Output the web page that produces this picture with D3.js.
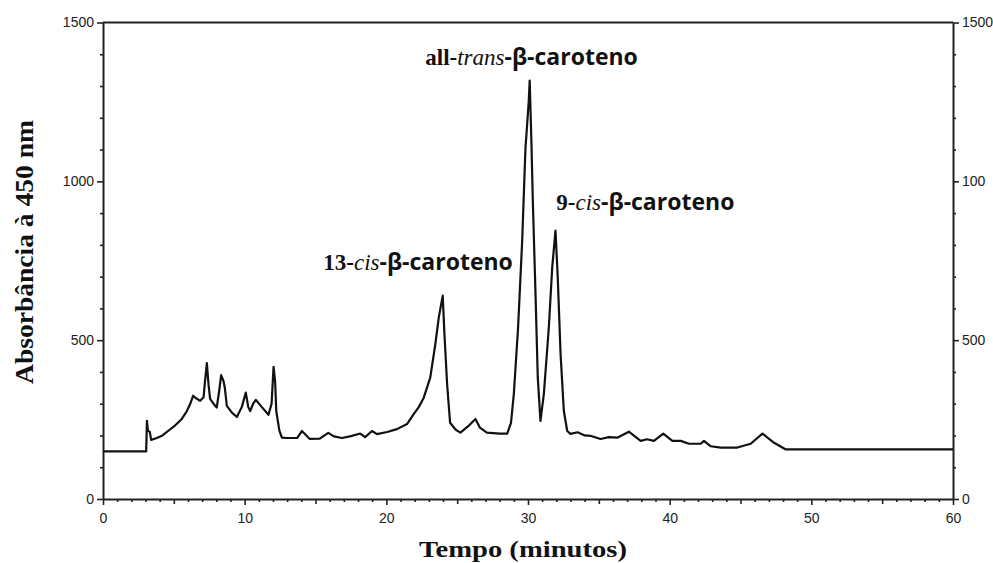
<!DOCTYPE html>
<html>
<head>
<meta charset="utf-8">
<script src="https://cdn.jsdelivr.net/npm/d3@7"></script>
<style>
  body { margin: 0; background: #fff; }
  svg { display: block; }
</style>
</head>
<body>
<div id="chart"></div>
<script>

// Chromatogram: beta-carotene isomers at 450 nm

// Set dimensions and margins for the plot
const width = 993;
const height = 563;
const margin = {left: 103, right: 40, bottom: 64, top: 22.5};

// Retention time (minutes) and absorbance
const times = [
  0, 3.05, 3.1, 3.17, 3.3, 3.4, 3.8, 4.2, 4.7, 5.1, 5.56, 5.9, 6.15, 6.36, 6.55,
  6.86, 7.1, 7.2, 7.33, 7.45, 7.56, 7.8, 8.03, 8.2, 8.34, 8.5, 8.6, 8.74, 9.1,
  9.45, 9.8, 10.08, 10.25, 10.39, 10.6, 10.79, 11.2, 11.68, 11.9, 12.04, 12.15,
  12.23, 12.45, 12.63, 13.0, 13.7, 14.04, 14.6, 15.3, 15.9, 16.3, 16.87, 17.5,
  18.16, 18.5, 18.99, 19.34, 20.05, 20.75, 21.46, 21.93, 22.3, 22.64, 23.1,
  23.46, 23.7, 23.98, 24.1, 24.29, 24.5, 24.9, 25.23, 25.8, 26.29, 26.6, 27.1,
  28.0, 28.53, 28.8, 29.0, 29.3, 29.59, 29.82, 30.05, 30.12, 30.25, 30.34,
  30.53, 30.69, 30.88, 31.12, 31.47, 31.71, 31.94, 32.1, 32.3, 32.53, 32.77,
  33.0, 33.5, 34.0, 34.4, 35.12, 35.7, 36.3, 37.12, 37.95, 38.4, 38.89, 39.55,
  40.19, 40.78, 41.36, 42.19, 42.42, 42.9, 43.6, 44.78, 45.72, 46.55, 47.37,
  48.2, 60
];
const absorbance = [
  150, 150, 246, 215, 212, 186, 192, 200, 218, 232, 252, 275, 299, 325, 318,
  309, 320, 370, 428, 360, 315, 300, 288, 340, 390, 372, 350, 293, 272,
  258, 290, 335, 290, 277, 300, 312, 290, 265, 300, 416, 370,
  277, 215, 193, 192, 192, 214, 189, 190, 208, 197, 192, 198,
  206, 195, 214, 204, 211, 220, 236, 267, 290, 319, 382,
  488, 571, 640, 520, 362, 240, 218, 209, 230, 252, 225, 209,
  206, 206, 240, 331, 540, 813, 1103, 1250, 1317, 1107, 939,
  646, 382, 246, 331, 540, 729, 845, 697, 456, 277, 214,
  205, 210, 200, 199, 189, 195, 193, 212, 183, 188, 183, 206,
  183, 183, 174, 174, 183, 166, 162, 162, 174, 206, 177,
  156, 156
];

// Tick labels (the right axis really says "100" where 1000 is)
const xTickLabels = ["0", "10", "20", "30", "40", "50", "60"];
const yTickLabels = ["0", "500", "1000", "1500"];
const yRightTickLabels = ["0", "500", "100", "1500"];

// Peak labels: [prefix, italic part, rest], anchored in data units
const peakNames = [
  ["13-", "cis", "-\u03b2-caroteno"],
  ["all-", "trans", "-\u03b2-caroteno"],
  ["9-", "cis", "-\u03b2-caroteno"]
];
const peakTimes = [15.55, 22.75, 32.0];
const peakLabelValues = [721, 1366, 910];

const data = times.map((t, i) => ({t: t, a: absorbance[i]}));

const svg = d3.select("#chart")
  .append("svg")
  .attr("width", width)
  .attr("height", height);

/*

  Scales

*/

const xScale = d3.scaleLinear()
  .domain([0, 60])
  .range([margin.left, width - margin.right]);

const yScale = d3.scaleLinear()
  .domain([0, 1500])
  .range([height - margin.bottom, margin.top]);

/*

  Axes

*/

const tickFont = "'Liberation Sans', Arial, sans-serif";

// left axis, minor ticks every 100
const yLeft = svg.append("g")
  .attr("transform", `translate(${margin.left},0)`)
  .call(d3.axisLeft(yScale)
    .tickValues(d3.range(0, 1501, 100))
    .tickSizeOuter(0)
    .tickPadding(3)
    .tickFormat(d => d % 500 === 0 ? yTickLabels[d / 500] : ""));

// right axis
const yRight = svg.append("g")
  .attr("transform", `translate(${width - margin.right},0)`)
  .call(d3.axisRight(yScale)
    .tickValues(d3.range(0, 1501, 100))
    .tickSizeOuter(0)
    .tickPadding(3)
    .tickFormat(d => d % 500 === 0 ? yRightTickLabels[d / 500] : ""));

// bottom axis, a tick every minute
const xAxis = svg.append("g")
  .attr("transform", `translate(0,${height - margin.bottom})`)
  .call(d3.axisBottom(xScale)
    .tickValues(d3.range(0, 61, 1))
    .tickSizeOuter(0)
    .tickPadding(8)
    .tickFormat(d => d % 10 === 0 ? xTickLabels[d / 10] : ""));

// major / minor tick lengths
yLeft.selectAll(".tick line").attr("x2", d => d % 500 === 0 ? -6 : -3);
yRight.selectAll(".tick line").attr("x2", d => d % 500 === 0 ? 6 : 3);
xAxis.selectAll(".tick line").attr("y2", d => d % 10 === 0 ? 6 : (d % 5 === 0 ? 5 : 3));

[yLeft, yRight, xAxis].forEach(g => {
  g.select(".domain").attr("stroke", "#222").attr("stroke-width", 2);
  g.selectAll(".tick line").attr("stroke", "#222").attr("stroke-width", 1.6);
  g.selectAll("text")
    .attr("font-family", tickFont)
    .attr("font-size", "14px")
    .attr("fill", "#222");
});

// top frame line
svg.append("line")
  .attr("x1", xScale(0))
  .attr("x2", xScale(60))
  .attr("y1", yScale(1500))
  .attr("y2", yScale(1500))
  .attr("stroke", "#222")
  .attr("stroke-width", 2);

/*

  Trace

*/

const line = d3.line()
  .x(d => xScale(d.t))
  .y(d => yScale(d.a));

svg.append("path")
  .datum(data)
  .attr("fill", "none")
  .attr("stroke", "#111")
  .attr("stroke-width", 2.2)
  .attr("stroke-linejoin", "round")
  .attr("d", line);

/*

  Titles and labels

*/

const serif = "'Liberation Serif', 'Times New Roman', serif";

svg.append("text")
  .attr("x", 523)
  .attr("y", 557)
  .attr("text-anchor", "middle")
  .attr("font-family", serif)
  .attr("font-weight", "bold")
  .attr("font-size", "24px")
  .attr("textLength", 208)
  .attr("lengthAdjust", "spacingAndGlyphs")
  .attr("fill", "#111")
  .text("Tempo (minutos)");

svg.append("text")
  .attr("transform", `translate(33,252) rotate(-90)`)
  .attr("text-anchor", "middle")
  .attr("font-family", serif)
  .attr("font-weight", "bold")
  .attr("font-size", "26px")
  .attr("textLength", 264)
  .attr("lengthAdjust", "spacingAndGlyphs")
  .attr("fill", "#111")
  .text("Absorb\u00e2ncia \u00e0 450 nm");

const labels = svg.selectAll(".peak-label")
  .data(peakNames)
  .enter()
  .append("text")
    .attr("class", "peak-label")
    .attr("x", (d, i) => xScale(peakTimes[i]))
    .attr("y", (d, i) => yScale(peakLabelValues[i]))
    .attr("font-size", "23px")
    .attr("fill", "#111");

labels.append("tspan")
  .attr("font-family", serif)
  .attr("font-weight", "bold")
  .text(d => d[0]);

labels.append("tspan")
  .attr("font-family", serif)
  .attr("font-style", "italic")
  .text(d => d[1]);

labels.append("tspan")
  .attr("font-family", "'Open Sans', sans-serif")
  .attr("font-weight", "bold")
  .text(d => d[2]);

</script>
</body>
</html>
